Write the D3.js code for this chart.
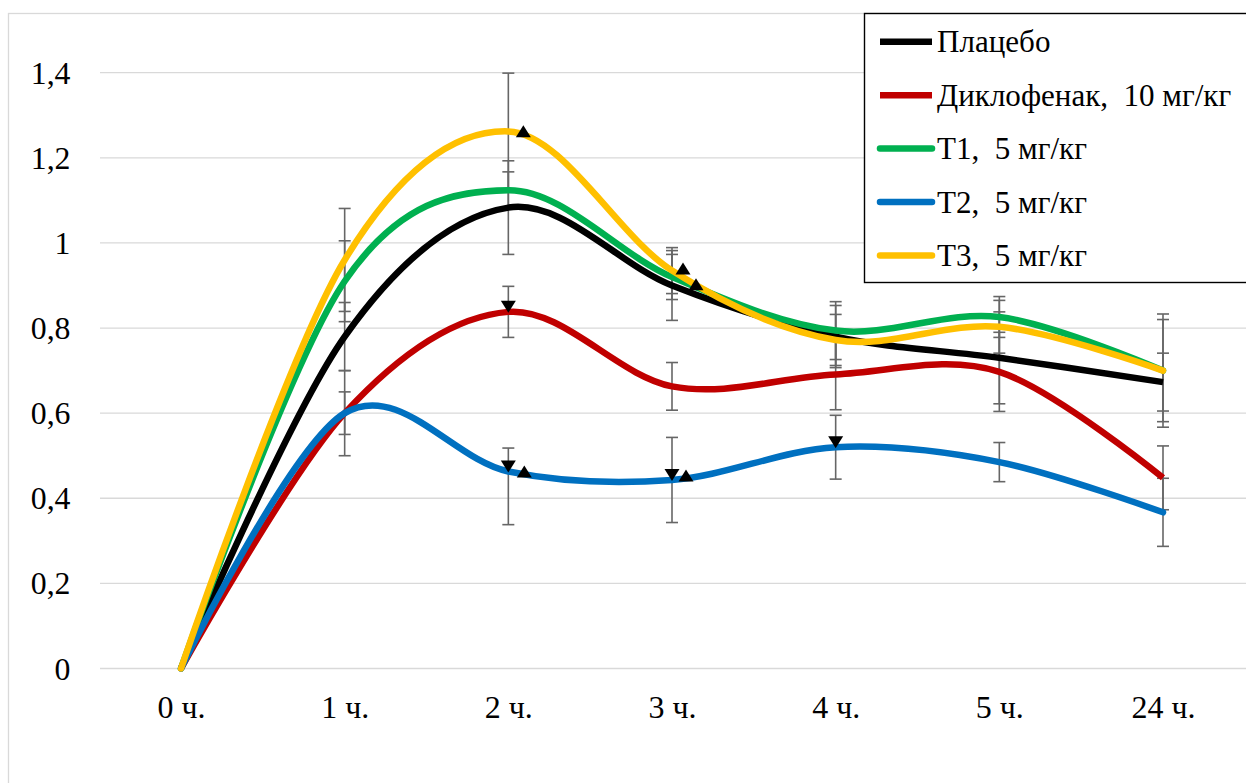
<!DOCTYPE html>
<html>
<head>
<meta charset="utf-8">
<script src="https://cdn.jsdelivr.net/npm/d3@7"></script>
<style>
  html, body { margin: 0; padding: 0; background: #fff; }
  svg { display: block; }
</style>
</head>
<body>
<svg id="chart" width="1246" height="783"></svg>
<script>
// ---------- data ----------
const categories = ["0 ч.", "1 ч.", "2 ч.", "3 ч.", "4 ч.", "5 ч.", "24 ч."];
const yTickValues = [0, 0.2, 0.4, 0.6, 0.8, 1.0, 1.2, 1.4];
const yTickLabels = ["0", "0,2", "0,4", "0,6", "0,8", "1", "1,2", "1,4"];

const seriesNames = ["Плацебо", "Диклофенак,  10 мг/кг", "T1,  5 мг/кг", "T2,  5 мг/кг", "T3,  5 мг/кг"];

const placebo       = [0, 0.78, 1.083, 0.90, 0.78, 0.73, 0.673];
const placeboErr    = [0, 0.08, 0.11, 0.082, 0.073, 0.108, 0.068];

const diclofenac    = [0, 0.60, 0.838, 0.663, 0.691, 0.697, 0.448];
const diclofenacErr = [0, 0.10, 0.06, 0.056, 0.083, 0.093, 0.075];

const t1            = [0, 0.91, 1.124, 0.92, 0.794, 0.826, 0.70];
const t1Err         = [0, 0.095, 0.043, 0.053, 0.068, 0.048, 0.133];

const t2            = [0, 0.60, 0.463, 0.443, 0.52, 0.485, 0.367];
const t2Err         = [0, 0.05, 0.055, 0.10, 0.075, 0.046, 0.08];
const t2ErrLow      = [0, 0.05, 0.125, 0.10, 0.075, 0.046, 0.08];

const t3            = [0, 0.96, 1.262, 0.935, 0.772, 0.803, 0.70];
const t3Err         = [0, 0.121, 0.137, 0.054, 0.06, 0.062, 0.12];

// significance markers: series index, category index, direction
const markerSeries = [4, 1, 3, 3, 4, 2, 3, 3, 3];
const markerCat    = [2, 2, 2, 2, 3, 3, 3, 3, 4];
const markerDir    = ["up", "down", "down", "up", "up", "up", "down", "up", "down"];

// ---------- font detection (also forces the serif faces to load) ----------
const candidates = ["Liberation Serif", "Tinos", "Times New Roman", "Times", "DejaVu Serif",
  "Noto Serif", "FreeSerif", "Nimbus Roman", "Nimbus Roman No9 L", "Georgia"];
const ctx = document.createElement("canvas").getContext("2d");
function w(f) { ctx.font = "30px " + f; return ctx.measureText("Плацебо мг/кг 1,4 WwIl").width; }
const baseMono = w("monospace"), baseSans = w("sans-serif");
let found = [];
candidates.forEach(c => {
  const a = w('"' + c + '", monospace'), b = w('"' + c + '", sans-serif');
  if (Math.abs(a - baseMono) > 0.5 || Math.abs(b - baseSans) > 0.5) found.push(c);
});
w("serif");
const FONT = (found.length ? '"' + found[0] + '", ' : '') + 'serif';

// ---------- styles ----------
const colors = ["#000000", "#c00000", "#00b050", "#0070c0", "#ffc000"];
const caps   = ["butt", "butt", "round", "round", "round"];

const series = [
  { name: seriesNames[0], values: placebo,    errHi: placeboErr,    errLo: placeboErr },
  { name: seriesNames[1], values: diclofenac, errHi: diclofenacErr, errLo: diclofenacErr },
  { name: seriesNames[2], values: t1,         errHi: t1Err,         errLo: t1Err },
  { name: seriesNames[3], values: t2,         errHi: t2Err,         errLo: t2ErrLow },
  { name: seriesNames[4], values: t3,         errHi: t3Err,         errLo: t3Err }
];

const svg = d3.select("#chart");

svg.append("rect")
  .attr("x", 8.5).attr("y", 13.5).attr("width", 1300).attr("height", 1000)
  .attr("fill", "none").attr("stroke", "#d9d9d9").attr("stroke-width", 1.3);

const x = d3.scalePoint().domain(categories).range([181, 1163]);
const y = d3.scaleLinear().domain([0, 1.4]).range([668.5, 72.7]);

svg.append("g").selectAll("line").data(yTickValues).join("line")
  .attr("x1", 100).attr("x2", 1246)
  .attr("y1", d => y(d)).attr("y2", d => y(d))
  .attr("stroke", "#d9d9d9").attr("stroke-width", 1.3);

const yAxis = d3.axisLeft(y).tickValues(yTickValues)
  .tickFormat((d, i) => yTickLabels[i]).tickSize(0).tickPadding(0);
const gy = svg.append("g").attr("transform", "translate(70.5,0)").call(yAxis)
  .attr("font-family", FONT).attr("font-size", 30);
gy.select(".domain").remove();
gy.selectAll("text").attr("dy", "0.33em").attr("fill", "#000").attr("transform", "scale(1.06)");

const xAxis = d3.axisBottom(x).tickSize(0).tickPadding(0);
const gx = svg.append("g").attr("transform", "translate(0,695.5)").call(xAxis)
  .attr("font-family", FONT).attr("font-size", 30);
gx.select(".domain").remove();
gx.selectAll("text").attr("dy", "0.71em").attr("fill", "#000").attr("transform", "scale(1.066)");

const eg = svg.append("g");
series.forEach(s => {
  s.values.forEach((v, i) => {
    if (s.errHi[i] === 0 && s.errLo[i] === 0) return;
    const cx = x(categories[i]);
    const yHi = y(v + s.errHi[i]);
    const yLo = y(v - s.errLo[i]);
    eg.append("line").attr("x1", cx).attr("x2", cx).attr("y1", yHi).attr("y2", yLo)
      .attr("stroke", "#666666").attr("stroke-width", 1.6);
    [yHi, yLo].forEach(yy => {
      eg.append("line").attr("x1", cx - 6).attr("x2", cx + 6).attr("y1", yy).attr("y2", yy)
        .attr("stroke", "#666666").attr("stroke-width", 1.6);
    });
  });
});

const line = d3.line()
  .x((d, i) => x(categories[i]))
  .y(d => y(d))
  .curve(d3.curveCardinal.tension(0));

const paths = series.map((s, k) =>
  svg.append("path").datum(s.values)
    .attr("d", line)
    .attr("fill", "none")
    .attr("stroke", colors[k])
    .attr("stroke-width", 6.5)
    .attr("stroke-linecap", caps[k])
    .attr("stroke-linejoin", "round")
    .node()
);

function yAtX(node, px) {
  const total = node.getTotalLength();
  let lo = 0, hi = total;
  for (let it = 0; it < 40; it++) {
    const mid = (lo + hi) / 2;
    const p = node.getPointAtLength(mid);
    if (p.x < px) lo = mid; else hi = mid;
  }
  return node.getPointAtLength((lo + hi) / 2).y;
}

const upNudge = { "4-2": [15, 0], "3-2": [16, 0], "4-3": [11, -6], "2-3": [24, 0], "3-3": [14, 0] };
const mg = svg.append("g");
markerSeries.forEach((si, m) => {
  const ci = markerCat[m];
  const cx0 = x(categories[ci]);
  if (markerDir[m] === "down") {
    const ly = yAtX(paths[si], cx0);
    const tip = ly + 1;
    mg.append("path")
      .attr("d", `M${cx0 - 7.5},${tip - 12}L${cx0 + 7.5},${tip - 12}L${cx0},${tip}Z`)
      .attr("fill", "#000");
  } else {
    const nd = upNudge[si + "-" + ci] || [15, 0];
    const cx = cx0 + nd[0];
    const ly = yAtX(paths[si], cx);
    const base = ly + 3 + nd[1];
    mg.append("path")
      .attr("d", `M${cx - 7.5},${base}L${cx + 7.5},${base}L${cx},${base - 12}Z`)
      .attr("fill", "#000");
  }
});

const lg = svg.append("g").attr("font-family", FONT).attr("font-size", 30);
lg.append("rect").attr("x", 864.5).attr("y", 13.5).attr("width", 400).attr("height", 269)
  .attr("fill", "#fff").attr("stroke", "#000").attr("stroke-width", 1.4);
const rowY = d3.scalePoint().domain(d3.range(series.length)).range([41.7, 255.5]);
series.forEach((s, k) => {
  const ry = rowY(k);
  lg.append("line").attr("x1", 880).attr("x2", 932).attr("y1", ry).attr("y2", ry)
    .attr("stroke", colors[k]).attr("stroke-width", 6.5).attr("stroke-linecap", caps[k]);
  lg.append("text").attr("transform", `translate(937,${ry + 10.5}) scale(1.035)`)
    .attr("xml:space", "preserve").style("white-space", "pre").text(s.name);
});
</script>
</body>
</html>
